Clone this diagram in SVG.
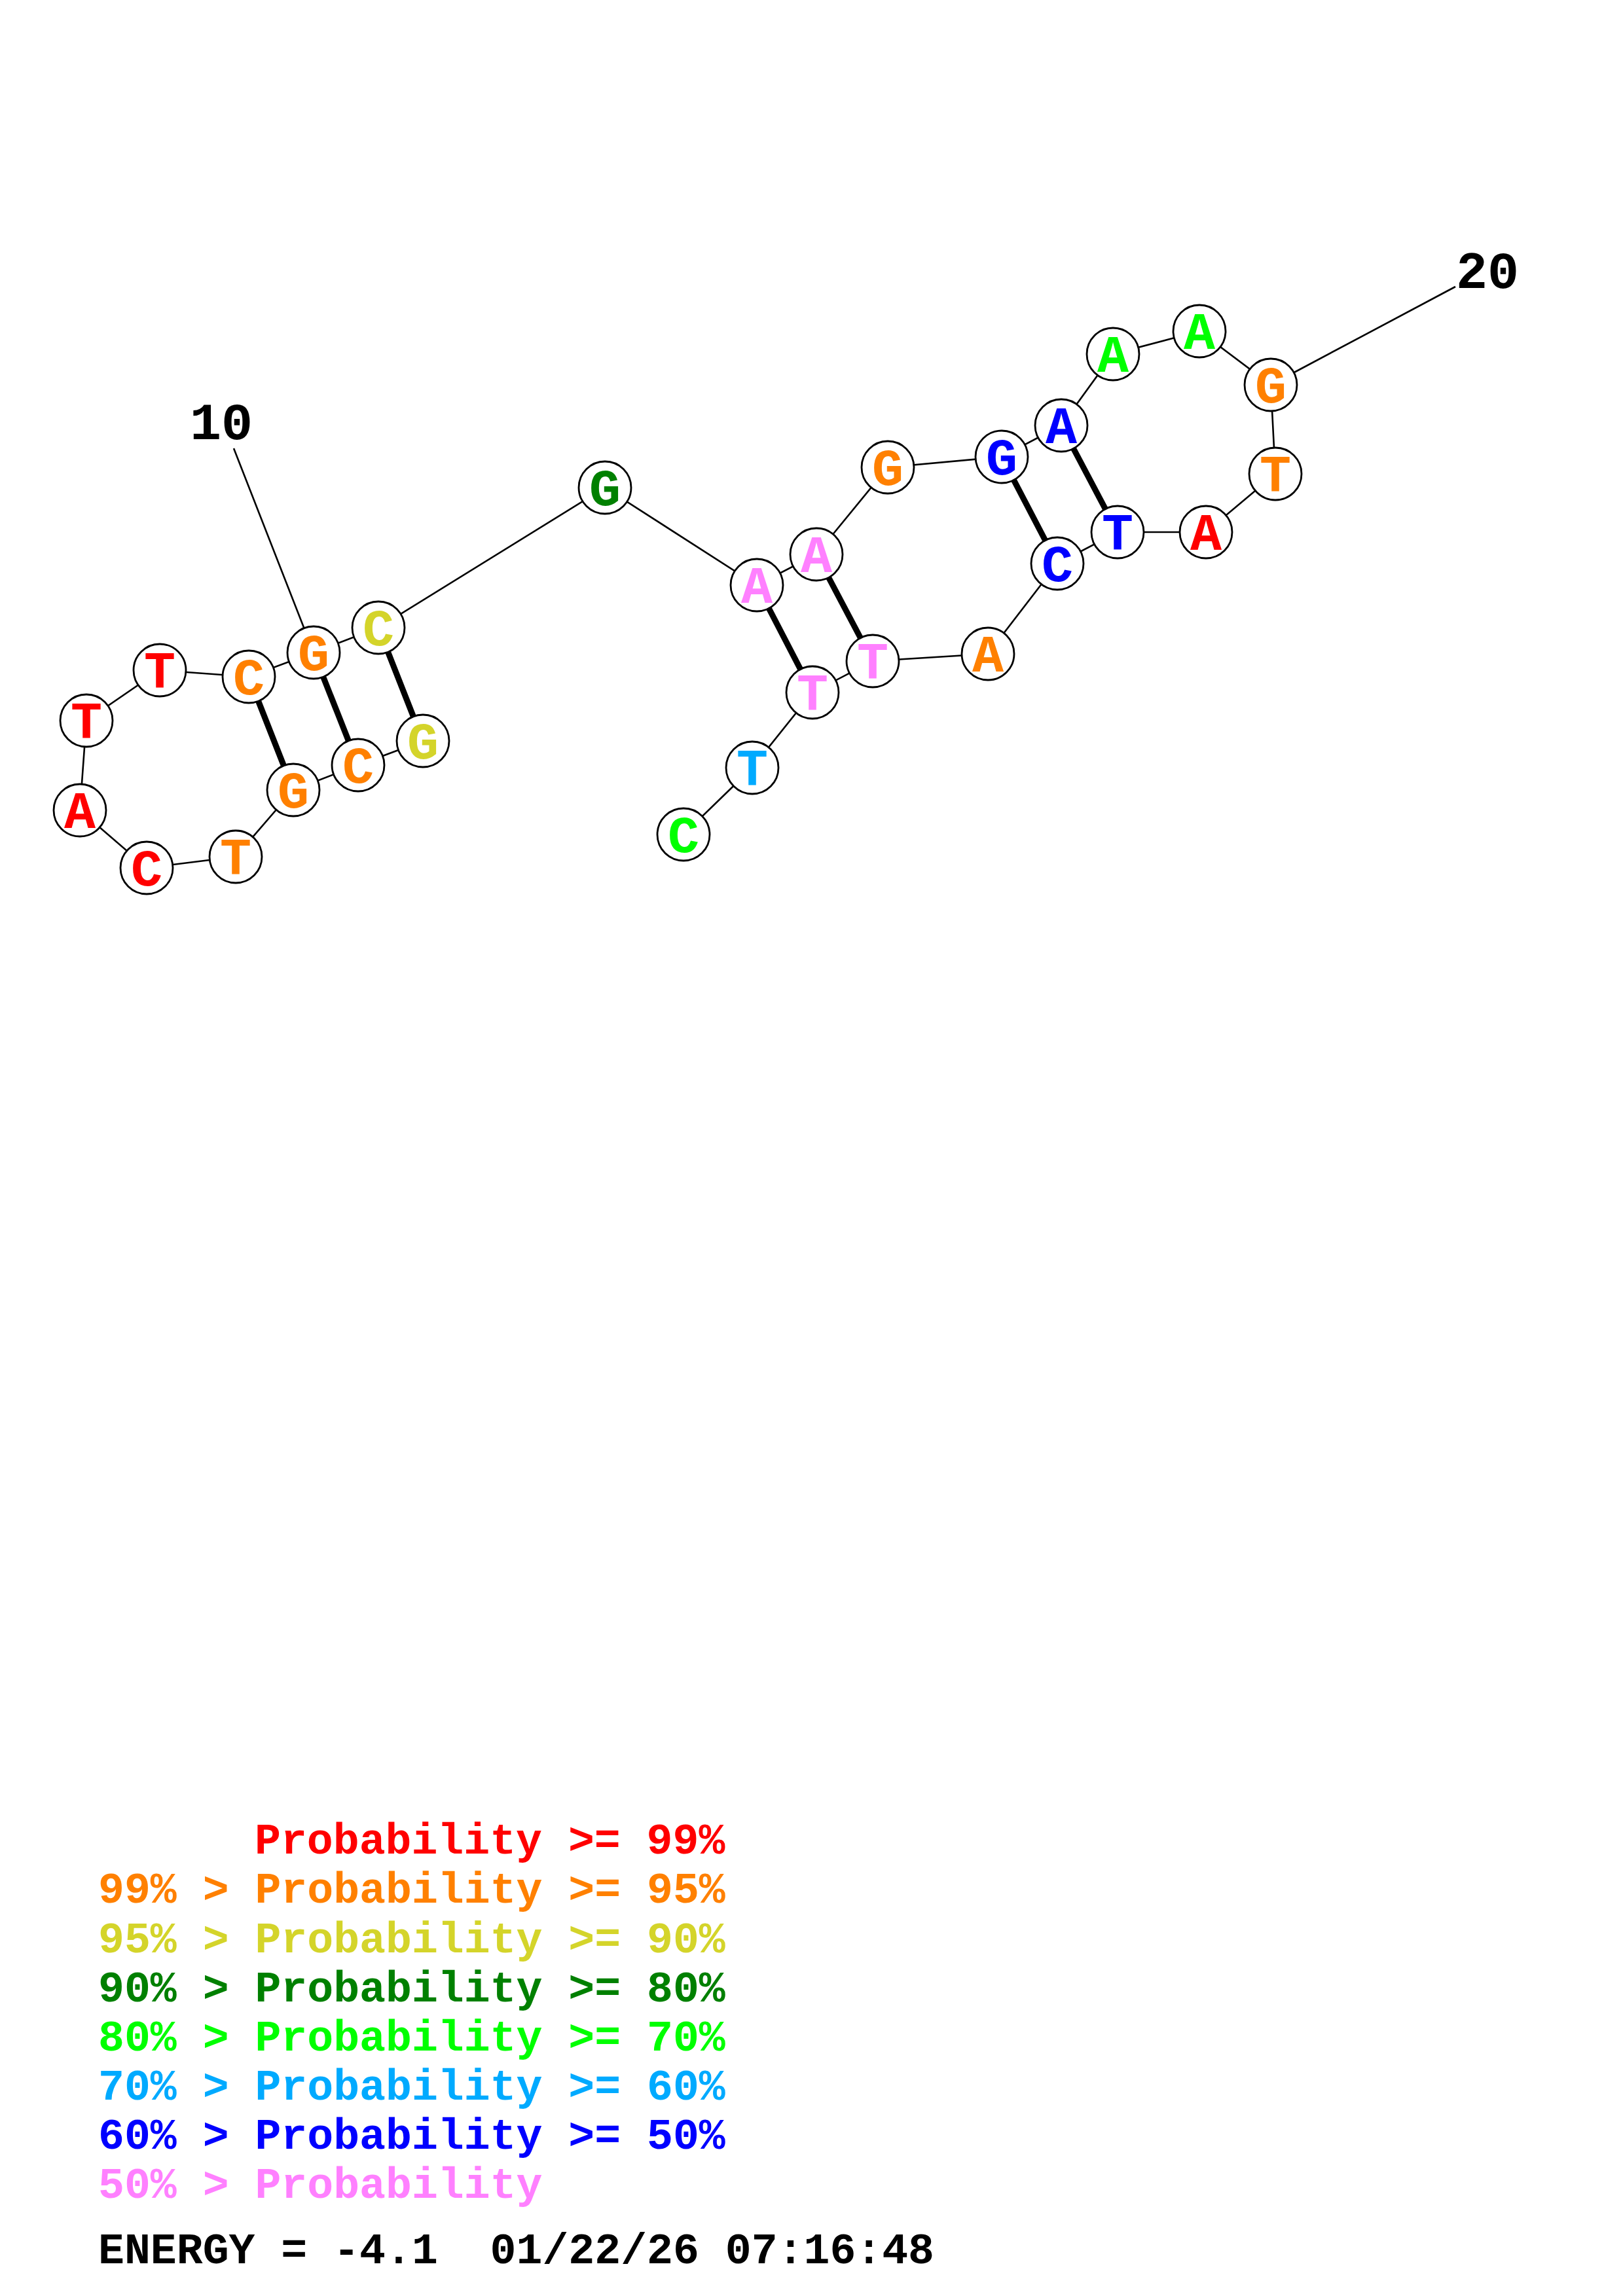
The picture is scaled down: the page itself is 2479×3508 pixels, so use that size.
<svg xmlns="http://www.w3.org/2000/svg" width="2479" height="3508" viewBox="0 0 2479 3508">
<style>
.bb{stroke:#000;stroke-width:2.6;fill:none}
.bp{stroke:#000;stroke-width:9;fill:none}
.nd circle{fill:#fff;stroke:#000;stroke-width:2.8}
.nd text{font-family:"Liberation Mono","DejaVu Sans Mono",monospace;font-weight:bold;font-size:80px;text-anchor:middle}
.lbl{font-family:"Liberation Mono","DejaVu Sans Mono",monospace;font-weight:bold;font-size:80px;text-anchor:middle;fill:#000}
.lg{font-family:"Liberation Mono","DejaVu Sans Mono",monospace;font-weight:bold;font-size:66.5px;white-space:pre}
.r{fill:#FF0000}.o{fill:#FF8000}.y{fill:#D4D42A}.dg{fill:#008000}.g{fill:#00FF00}.c{fill:#00AAFF}.b{fill:#0000FF}.p{fill:#FF80FF}.k{fill:#000}
</style>
<rect x="0" y="0" width="2479" height="3508" fill="#fff"/>
<g id="connectors">
<line class="bb" x1="357" y1="685" x2="479" y2="997"/>
<line class="bb" x1="2223" y1="438" x2="1941" y2="588"/>
<polyline class="bb" points="646,1132 547,1169 448,1207 360,1309 224,1326 122,1238 132,1101 244,1024 380,1034 479,997 578,959 924,745 1156,894 1247,847 1356,714 1530,698 1621,650 1700,541 1832,506 1941,588 1948,724 1842,813 1707,813 1615,861 1509,999 1333,1010 1241,1058 1149,1173 1044,1275"/>
<line class="bp" x1="646" y1="1132" x2="578" y2="959"/>
<line class="bp" x1="547" y1="1169" x2="479" y2="997"/>
<line class="bp" x1="448" y1="1207" x2="380" y2="1034"/>
<line class="bp" x1="1156" y1="894" x2="1241" y2="1058"/>
<line class="bp" x1="1247" y1="847" x2="1333" y2="1010"/>
<line class="bp" x1="1530" y1="698" x2="1615" y2="861"/>
<line class="bp" x1="1621" y1="650" x2="1707" y2="813"/>
</g>
<g id="n1" class="nd"><circle cx="646" cy="1132" r="40"/><text x="646" y="1159" class="y">G</text></g>
<g id="n2" class="nd"><circle cx="547" cy="1169" r="40"/><text x="547" y="1196" class="o">C</text></g>
<g id="n3" class="nd"><circle cx="448" cy="1207" r="40"/><text x="448" y="1234" class="o">G</text></g>
<g id="n4" class="nd"><circle cx="360" cy="1309" r="40"/><text x="360" y="1336" class="o">T</text></g>
<g id="n5" class="nd"><circle cx="224" cy="1326" r="40"/><text x="224" y="1353" class="r">C</text></g>
<g id="n6" class="nd"><circle cx="122" cy="1238" r="40"/><text x="122" y="1265" class="r">A</text></g>
<g id="n7" class="nd"><circle cx="132" cy="1101" r="40"/><text x="132" y="1128" class="r">T</text></g>
<g id="n8" class="nd"><circle cx="244" cy="1024" r="40"/><text x="244" y="1051" class="r">T</text></g>
<g id="n9" class="nd"><circle cx="380" cy="1034" r="40"/><text x="380" y="1061" class="o">C</text></g>
<g id="n10" class="nd"><circle cx="479" cy="997" r="40"/><text x="479" y="1024" class="o">G</text></g>
<g id="n11" class="nd"><circle cx="578" cy="959" r="40"/><text x="578" y="986" class="y">C</text></g>
<g id="n12" class="nd"><circle cx="924" cy="745" r="40"/><text x="924" y="772" class="dg">G</text></g>
<g id="n13" class="nd"><circle cx="1156" cy="894" r="40"/><text x="1156" y="921" class="p">A</text></g>
<g id="n14" class="nd"><circle cx="1247" cy="847" r="40"/><text x="1247" y="874" class="p">A</text></g>
<g id="n15" class="nd"><circle cx="1356" cy="714" r="40"/><text x="1356" y="741" class="o">G</text></g>
<g id="n16" class="nd"><circle cx="1530" cy="698" r="40"/><text x="1530" y="725" class="b">G</text></g>
<g id="n17" class="nd"><circle cx="1621" cy="650" r="40"/><text x="1621" y="677" class="b">A</text></g>
<g id="n18" class="nd"><circle cx="1700" cy="541" r="40"/><text x="1700" y="568" class="g">A</text></g>
<g id="n19" class="nd"><circle cx="1832" cy="506" r="40"/><text x="1832" y="533" class="g">A</text></g>
<g id="n20" class="nd"><circle cx="1941" cy="588" r="40"/><text x="1941" y="615" class="o">G</text></g>
<g id="n21" class="nd"><circle cx="1948" cy="724" r="40"/><text x="1948" y="751" class="o">T</text></g>
<g id="n22" class="nd"><circle cx="1842" cy="813" r="40"/><text x="1842" y="840" class="r">A</text></g>
<g id="n23" class="nd"><circle cx="1707" cy="813" r="40"/><text x="1707" y="840" class="b">T</text></g>
<g id="n24" class="nd"><circle cx="1615" cy="861" r="40"/><text x="1615" y="888" class="b">C</text></g>
<g id="n25" class="nd"><circle cx="1509" cy="999" r="40"/><text x="1509" y="1026" class="o">A</text></g>
<g id="n26" class="nd"><circle cx="1333" cy="1010" r="40"/><text x="1333" y="1037" class="p">T</text></g>
<g id="n27" class="nd"><circle cx="1241" cy="1058" r="40"/><text x="1241" y="1085" class="p">T</text></g>
<g id="n28" class="nd"><circle cx="1149" cy="1173" r="40"/><text x="1149" y="1200" class="c">T</text></g>
<g id="n29" class="nd"><circle cx="1044" cy="1275" r="40"/><text x="1044" y="1302" class="g">C</text></g>
<g id="labels">
<text class="lbl" x="338" y="671">10</text>
<text class="lbl" x="2272" y="440">20</text>
</g>
<g id="legend">
<text class="lg r" x="389" y="2832">Probability &gt;= 99%</text>
<text class="lg o" x="150" y="2907">99% &gt; Probability &gt;= 95%</text>
<text class="lg y" x="150" y="2983">95% &gt; Probability &gt;= 90%</text>
<text class="lg dg" x="150" y="3058">90% &gt; Probability &gt;= 80%</text>
<text class="lg g" x="150" y="3133">80% &gt; Probability &gt;= 70%</text>
<text class="lg c" x="150" y="3208">70% &gt; Probability &gt;= 60%</text>
<text class="lg b" x="150" y="3283">60% &gt; Probability &gt;= 50%</text>
<text class="lg p" x="150" y="3358">50% &gt; Probability</text>
<text class="lg k" x="150" y="3458">ENERGY = -4.1  01/22/26 07:16:48</text>
</g>
</svg>
